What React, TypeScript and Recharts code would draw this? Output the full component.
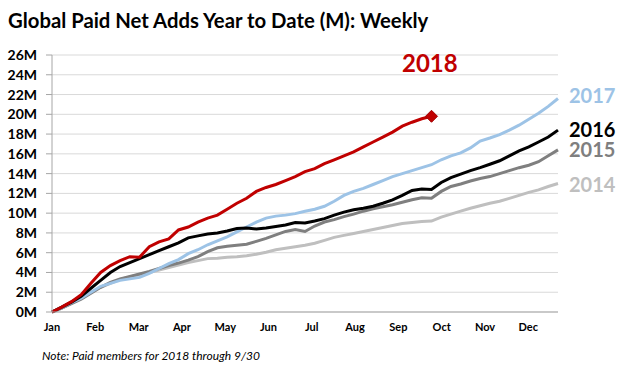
import React from "react";
import { LineChart, Line, XAxis, YAxis, CartesianGrid } from "recharts";

const monthLabels = ["Jan", "Feb", "Mar", "Apr", "May", "Jun", "Jul", "Aug", "Sep", "Oct", "Nov", "Dec"];
const yTicks = [0, 2, 4, 6, 8, 10, 12, 14, 16, 18, 20, 22, 24, 26];

const s2018 = [0, 0.5, 1.05, 1.75, 2.9, 4.0, 4.7, 5.2, 5.6, 5.55, 6.6, 7.1, 7.4, 8.3, 8.6, 9.1, 9.5, 9.8, 10.4, 11.0, 11.5, 12.2, 12.6, 12.9, 13.3, 13.7, 14.2, 14.5, 15.0, 15.4, 15.8, 16.2, 16.7, 17.2, 17.7, 18.2, 18.8, 19.2, 19.55, 19.8];
const s2017 = [0, 0.45, 0.95, 1.4, 2.0, 2.6, 2.9, 3.2, 3.35, 3.5, 3.9, 4.4, 4.9, 5.3, 5.9, 6.3, 6.8, 7.2, 7.6, 8.1, 8.6, 9.1, 9.5, 9.7, 9.8, 9.95, 10.2, 10.4, 10.7, 11.2, 11.8, 12.2, 12.5, 12.9, 13.3, 13.7, 14.0, 14.3, 14.6, 14.9, 15.4, 15.8, 16.1, 16.6, 17.3, 17.6, 17.95, 18.4, 18.9, 19.5, 20.1, 20.8, 21.6];
const s2016 = [0, 0.5, 1.0, 1.6, 2.4, 3.2, 4.0, 4.6, 5.0, 5.4, 5.8, 6.2, 6.6, 7.0, 7.5, 7.7, 7.9, 8.0, 8.2, 8.45, 8.5, 8.4, 8.5, 8.65, 8.8, 9.05, 9.0, 9.2, 9.45, 9.8, 10.1, 10.35, 10.5, 10.7, 11.0, 11.35, 11.8, 12.3, 12.45, 12.4, 13.1, 13.6, 13.95, 14.3, 14.6, 14.95, 15.3, 15.8, 16.3, 16.7, 17.2, 17.7, 18.4];
const s2015 = [0, 0.4, 0.85, 1.3, 1.9, 2.5, 3.0, 3.35, 3.6, 3.85, 4.1, 4.4, 4.7, 4.95, 5.25, 5.6, 6.1, 6.5, 6.65, 6.75, 6.85, 7.15, 7.45, 7.8, 8.15, 8.35, 8.15, 8.7, 9.1, 9.35, 9.65, 9.9, 10.2, 10.45, 10.65, 10.85, 11.1, 11.35, 11.55, 11.5, 12.2, 12.7, 12.95, 13.25, 13.5, 13.7, 14.0, 14.3, 14.6, 14.85, 15.2, 15.8, 16.4];
const s2014 = [0, 0.4, 0.9, 1.4, 1.95, 2.5, 2.9, 3.3, 3.55, 3.8, 4.0, 4.25, 4.5, 4.75, 5.0, 5.2, 5.4, 5.45, 5.55, 5.6, 5.7, 5.85, 6.05, 6.3, 6.45, 6.6, 6.75, 6.95, 7.25, 7.55, 7.75, 7.95, 8.15, 8.35, 8.55, 8.75, 8.95, 9.05, 9.15, 9.2, 9.6, 9.9, 10.2, 10.5, 10.75, 11.0, 11.2, 11.5, 11.8, 12.1, 12.35, 12.7, 13.0];

const MONTH_STEP = 4.45;
const data = s2017.map((_, i) => ({
  week: i,
  y2018: i < s2018.length ? s2018[i] : undefined,
  y2017: s2017[i],
  y2016: s2016[i],
  y2015: s2015[i],
  y2014: s2014[i],
}));
const xTicks = monthLabels.map((_, i) => i * MONTH_STEP);

const C2018 = "#C00000";
const C2017 = "#9DC3E6";
const C2016 = "#000000";
const C2015 = "#7F7F7F";
const C2014 = "#BFBFBF";

const FONT = "Lato, 'Open Sans', sans-serif";

const lastIdx = s2018.length - 1;
const Diamond = (props: any) => {
  const { cx, cy, index } = props;
  if (index !== lastIdx || cx == null) return <g key={`d${index}`} />;
  const r = 6;
  return (
    <path
      key={`d${index}`}
      d={`M${cx},${cy - r} L${cx + r},${cy} L${cx},${cy + r} L${cx - r},${cy} Z`}
      fill={C2018}
      stroke="#A00000"
      strokeWidth={1}
    />
  );
};

const label = (text: string, color: string, left: number, top: number, size: number) => (
  <div
    style={{
      position: "absolute",
      left,
      top,
      color,
      fontFamily: FONT,
      fontWeight: 700,
      fontSize: size,
      lineHeight: 1,
      height: size - 2,
    }}
  >
    {text}
  </div>
);

export default function App() {
  return (
    <div style={{ position: "absolute", left: 0, top: 0, width: 621, height: 371, background: "#fff", overflow: "hidden" }}>
      <div
        style={{
          position: "absolute",
          left: 8,
          top: 10,
          fontFamily: FONT,
          fontWeight: 700,
          fontSize: 20.3,
          lineHeight: 1,
          color: "#000",
          whiteSpace: "nowrap",
        }}
      >
        Global Paid Net Adds Year to Date (M): Weekly
      </div>
      <LineChart
        width={621}
        height={371}
        data={data}
        margin={{ top: 55, right: 63, bottom: 29, left: 0 }}
        style={{ position: "absolute", left: 0, top: 0 }}
      >
        <CartesianGrid horizontal vertical={false} stroke="#D9D9D9" strokeWidth={1} />
        <XAxis
          dataKey="week"
          type="number"
          domain={[0, 52]}
          ticks={xTicks}
          interval={0}
          tickFormatter={(v: number) => monthLabels[Math.round(v / MONTH_STEP)]}
          tickLine={false}
          tickSize={0}
          tickMargin={11}
          height={30}
          axisLine={{ stroke: "#A6A6A6", strokeWidth: 1 }}
          tick={{ fill: "#000", fontSize: 11, fontWeight: 700, fontFamily: FONT }}
        />
        <YAxis
          type="number"
          domain={[0, 26]}
          ticks={yTicks}
          interval={0}
          width={52}
          tickFormatter={(v: number) => `${v}M`}
          tickSize={6}
          tickMargin={9}
          tickLine={{ stroke: "#A6A6A6" }}
          axisLine={{ stroke: "#A6A6A6", strokeWidth: 1 }}
          tick={{ fill: "#000", fontSize: 14, fontWeight: 700, fontFamily: FONT }}
        />
        <Line type="linear" dataKey="y2014" stroke={C2014} strokeWidth={3} dot={false} isAnimationActive={false} />
        <Line type="linear" dataKey="y2015" stroke={C2015} strokeWidth={3} dot={false} isAnimationActive={false} />
        <Line type="linear" dataKey="y2017" stroke={C2017} strokeWidth={3} dot={false} isAnimationActive={false} />
        <Line type="linear" dataKey="y2016" stroke={C2016} strokeWidth={3} dot={false} isAnimationActive={false} />
        <Line
          type="linear"
          dataKey="y2018"
          stroke={C2018}
          strokeWidth={3}
          dot={Diamond}
          activeDot={false}
          connectNulls={false}
          isAnimationActive={false}
        />
      </LineChart>
      {label("2018", C2018, 402, 51, 24)}
      {label("2017", C2017, 569, 85, 20)}
      {label("2016", C2016, 569, 119, 20)}
      {label("2015", C2015, 569, 139, 20)}
      {label("2014", C2014, 569, 174, 20)}
      <div
        style={{
          position: "absolute",
          left: 42,
          top: 350,
          fontFamily: FONT,
          fontStyle: "italic",
          fontSize: 12,
          lineHeight: 1,
          color: "#000",
          whiteSpace: "nowrap",
        }}
      >
        Note: Paid members for 2018 through 9/30
      </div>
    </div>
  );
}
